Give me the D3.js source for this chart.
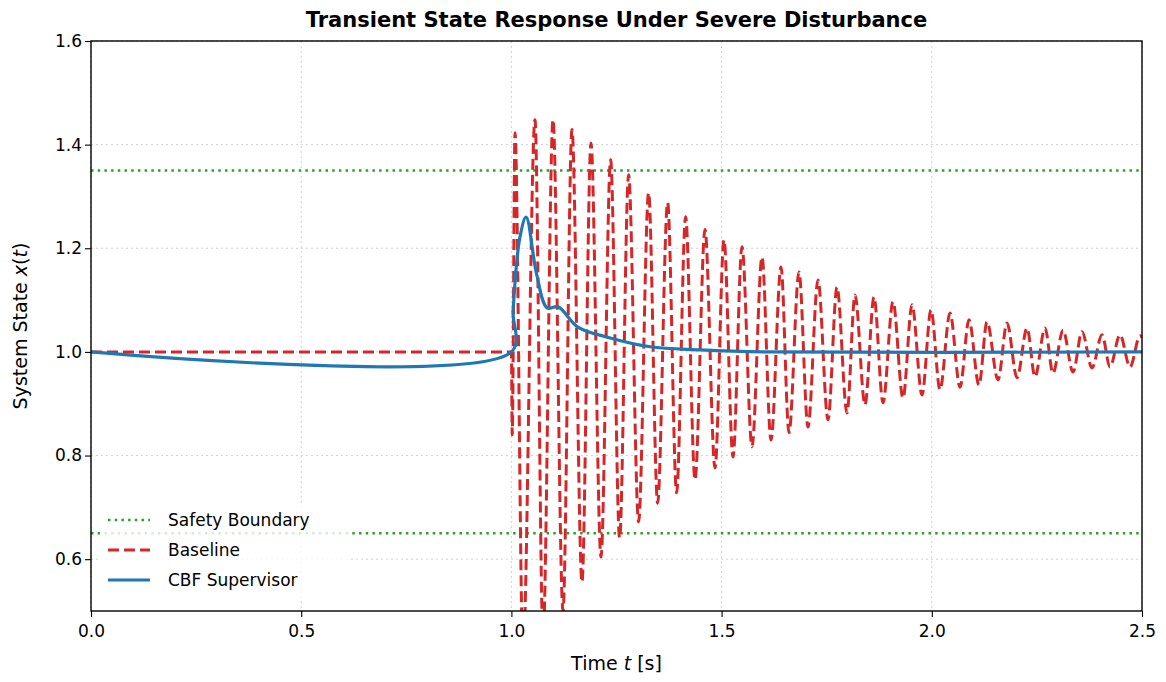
<!DOCTYPE html>
<html><head><meta charset="utf-8">
<script src="https://cdn.jsdelivr.net/npm/d3@7"></script>
<style>body{margin:0;background:#fff;font-family:"DejaVu Sans",sans-serif;}</style>
</head><body><svg id="chart" width="1166" height="682"></svg>
<script>
// Values
const xTicks = [0, 0.5, 1.0, 1.5, 2.0, 2.5];
const yTicks = [0.6, 0.8, 1.0, 1.2, 1.4, 1.6];
const safetyBounds = [1.35, 0.65];
// baseline: steady, then alternating trough / peak of the oscillation (t, value)
const baselineT = [0, 1.0, 1.002, 1.0086, 1.0276, 1.0561, 1.0752, 1.0990, 1.1227, 1.1441, 1.1679, 1.1893, 1.2131, 1.2360,
  1.2574, 1.2788, 1.3026, 1.3264, 1.3478, 1.3716, 1.3930, 1.4144, 1.4368, 1.4605, 1.4843, 1.5057, 1.5271, 1.5485,
  1.5723, 1.5961, 1.6175, 1.6413, 1.6603, 1.6841, 1.7055, 1.7293, 1.7531, 1.7745, 1.7983, 1.8173, 1.8411, 1.8625,
  1.8839, 1.9077, 1.9315, 1.9529, 1.9767, 1.9981, 2.0195, 2.0433, 2.0671, 2.0885, 2.1122, 2.1313, 2.1575, 2.1789,
  2.2027, 2.2265, 2.2455, 2.2693, 2.2883, 2.3121, 2.3359, 2.3573, 2.3811, 2.4049, 2.4239, 2.4477, 2.4715, 2.4952, 2.5];
const baselineV = [1.0, 1.0, 0.84, 1.423, 0.42, 1.448, 0.45, 1.448, 0.50, 1.429, 0.556, 1.403, 0.604, 1.371,
  0.641, 1.342, 0.672, 1.307, 0.708, 1.288, 0.728, 1.261, 0.753, 1.236, 0.776, 1.216, 0.797, 1.203,
  0.817, 1.183, 0.830, 1.164, 0.844, 1.154, 0.855, 1.139, 0.869, 1.125, 0.882, 1.110, 0.898, 1.106,
  0.902, 1.097, 0.911, 1.091, 0.917, 1.081, 0.927, 1.075, 0.932, 1.062, 0.936, 1.058, 0.946, 1.056,
  0.950, 1.046, 0.952, 1.046, 0.959, 1.042, 0.961, 1.039, 0.969, 1.033, 0.971, 1.033, 0.971, 1.031, 1.028];
const cbfT = [0, 1.0, 1.004, 1.02, 1.035, 1.06, 1.085, 1.111, 1.158, 1.235, 1.33, 1.449, 1.6, 2.5];
const cbfV = [1.0, 1.0, 1.08, 1.22, 1.26, 1.15, 1.085, 1.087, 1.048, 1.027, 1.01, 1.004, 1.0, 1.0];

const svg = d3.select("#chart");
const m = {left: 91, right: 1142, top: 41, bottom: 611};
const x = d3.scaleLinear().domain([0, 2.5]).range([m.left, m.right]);
const y = d3.scaleLinear().domain([0.5, 1.6]).range([m.bottom, m.top]);

svg.append("defs").append("clipPath").attr("id", "clip")
  .append("rect").attr("x", m.left).attr("y", m.top)
  .attr("width", m.right - m.left).attr("height", m.bottom - m.top);

// grid
const grid = svg.append("g").attr("stroke", "#ccc").attr("stroke-dasharray", "2,3").attr("stroke-width", 0.9);
xTicks.forEach(t => grid.append("line").attr("x1", x(t)).attr("x2", x(t)).attr("y1", m.top).attr("y2", m.bottom));
yTicks.forEach(t => grid.append("line").attr("y1", y(t)).attr("y2", y(t)).attr("x1", m.left).attr("x2", m.right));

const plot = svg.append("g").attr("clip-path", "url(#clip)");

// safety boundaries
safetyBounds.forEach(b => plot.append("line")
  .attr("x1", m.left).attr("x2", m.right).attr("y1", y(b)).attr("y2", y(b))
  .attr("stroke", "#2ca02c").attr("stroke-width", 2.5).attr("stroke-dasharray", "2.5,4.2"));

const line = d3.line().x(d => x(d[0])).y(d => y(d[1])).curve(d3.curveMonotoneX);

plot.append("path").datum(d3.zip(baselineT, baselineV))
  .attr("d", line).attr("fill", "none").attr("stroke", "#d62728")
  .attr("stroke-width", 3).attr("stroke-dasharray", "11,5");

plot.append("path").datum(d3.zip(cbfT, cbfV))
  .attr("d", d3.line().x(d => x(d[0])).y(d => y(d[1])).curve(d3.curveCatmullRom))
  .attr("fill", "none").attr("stroke", "#1f77b4")
  .attr("stroke-width", 3.2);

// axes
const xAxis = svg.append("g").attr("transform", `translate(0,${m.bottom})`)
  .call(d3.axisBottom(x).tickValues(xTicks).tickFormat(d3.format(".1f")).tickSizeOuter(0).tickSize(6));
const yAxis = svg.append("g").attr("transform", `translate(${m.left},0)`)
  .call(d3.axisLeft(y).tickValues(yTicks).tickFormat(d3.format(".1f")).tickSizeOuter(0).tickSize(6));
[xAxis, yAxis].forEach(a => {
  a.selectAll("text").attr("font-size", 17).attr("font-family", "DejaVu Sans").attr("fill", "#000");
  a.selectAll("line").attr("stroke", "#000").attr("stroke-width", 1.1);
  a.select(".domain").remove();
});
xAxis.selectAll("text").attr("dy", "1.0em");

svg.append("rect").attr("x", m.left).attr("y", m.top).attr("width", m.right - m.left)
  .attr("height", m.bottom - m.top).attr("fill", "none").attr("stroke", "#000").attr("stroke-width", 1.4);

// title and labels
svg.append("text").attr("x", (m.left + m.right) / 2).attr("y", 27).attr("text-anchor", "middle")
  .attr("font-size", 21).attr("font-weight", "bold").text("Transient State Response Under Severe Disturbance");
const xl = svg.append("text").attr("x", (m.left + m.right) / 2).attr("y", 670).attr("text-anchor", "middle").attr("font-size", 19);
xl.append("tspan").text("Time ");
xl.append("tspan").attr("font-style", "italic").text("t");
xl.append("tspan").text(" [s]");
const yl = svg.append("text").attr("transform", `translate(27,${(m.top + m.bottom) / 2}) rotate(-90)`)
  .attr("text-anchor", "middle").attr("font-size", 19);
yl.append("tspan").text("System State ");
yl.append("tspan").attr("font-style", "italic").text("x");
yl.append("tspan").text("(");
yl.append("tspan").attr("font-style", "italic").text("t");
yl.append("tspan").text(")");

// legend
const legendItems = [
  {label: "Safety Boundary", color: "#2ca02c", dash: "2.5,4.2", w: 2.5},
  {label: "Baseline", color: "#d62728", dash: "11,5", w: 3},
  {label: "CBF Supervisor", color: "#1f77b4", dash: null, w: 3.2}
];
const lg = svg.append("g");
lg.append("rect").attr("x", 100).attr("y", 503).attr("width", 248).attr("height", 97).attr("rx", 4)
  .attr("fill", "#fff").attr("fill-opacity", 0.8).attr("stroke", "none");
legendItems.forEach((d, i) => {
  const yy = 520 + i * 30;
  lg.append("line").attr("x1", 108).attr("x2", 150).attr("y1", yy).attr("y2", yy)
    .attr("stroke", d.color).attr("stroke-width", d.w).attr("stroke-dasharray", d.dash);
  lg.append("text").attr("x", 168).attr("y", yy + 6).attr("font-size", 17).text(d.label);
});
</script></body></html>
